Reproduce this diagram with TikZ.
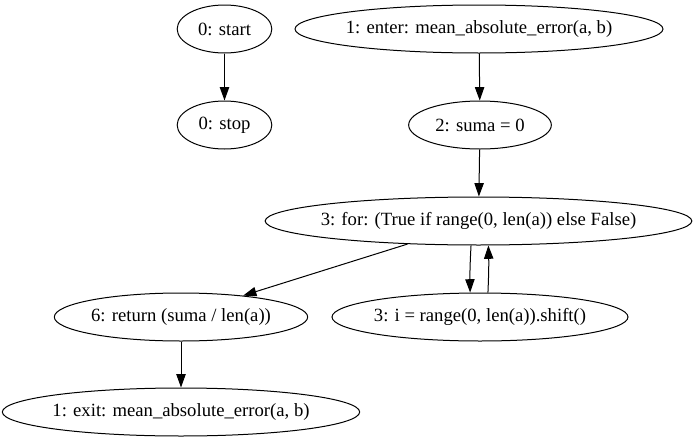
\documentclass[tikz,border=0pt]{standalone}
\usepackage{fontspec}
\setmainfont{Liberation Serif}
\usetikzlibrary{shapes.geometric,arrows.meta}
\newcommand{\gtext}[1]{\makebox[0pt]{#1}}
\begin{document}
\begin{tikzpicture}[x=0.75pt,y=-0.75pt,
  gnode/.style={draw,ellipse,inner sep=0pt,minimum height=36pt,line width=0.75pt,font=\rmfamily\fontsize{14}{16}\selectfont},
  garrow/.style={line width=0.75pt,-{Triangle[length=10pt,width=7pt]}}]
\useasboundingbox (0,0) rectangle (697,443);
\node[gnode,minimum width=71pt] (start) at (224.5,29) {\gtext{0: start}};
\node[gnode,minimum width=71pt] (stop) at (224.5,125) {\gtext{0: stop}};
\node[gnode,minimum width=276pt] (enter) at (479,29) {\gtext{1: enter: mean\_absolute\_error(a, b)}};
\node[gnode,minimum width=107pt] (suma) at (480,125) {\gtext{2: suma = 0}};
\node[gnode,minimum width=320pt] (for) at (478.5,221) {\gtext{3: for: (True if range(0, len(a)) else False)}};
\node[gnode,minimum width=190pt] (ret) at (181,317) {\gtext{6: return (suma / len(a))}};
\node[gnode,minimum width=222pt] (iter) at (480,317) {\gtext{3: i = range(0, len(a)).shift()}};
\node[gnode,minimum width=268pt] (exit) at (181,412) {\gtext{1: exit: mean\_absolute\_error(a, b)}};
\draw[garrow] (start) -- (stop);
\draw[garrow] (enter) -- (suma);
\draw[garrow] (suma) -- (for);
\draw[garrow] (for.198) -- (ret.19);
\draw[garrow] (for.-107) to[bend right=2] (iter.112);
\draw[garrow] (iter.72) to[bend right=2] (for.-68);
\draw[garrow] (ret) -- (exit);
\end{tikzpicture}
\end{document}
